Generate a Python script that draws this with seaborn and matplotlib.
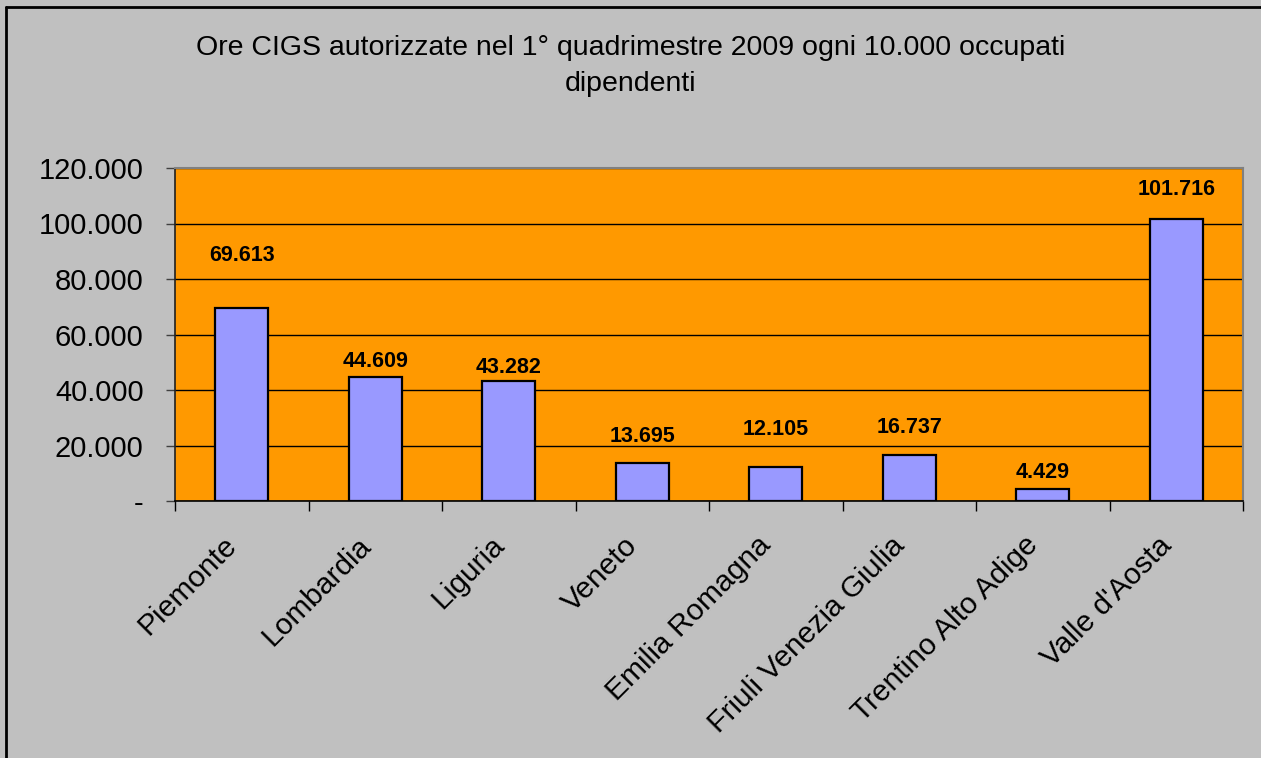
import matplotlib
matplotlib.use("Agg")
import matplotlib.pyplot as plt
import matplotlib.transforms as mtransforms
import seaborn as sns
import pandas as pd
from matplotlib.ticker import FuncFormatter, MultipleLocator, FixedLocator
from matplotlib.lines import Line2D

regions = ["Piemonte", "Lombardia", "Liguria", "Veneto", "Emilia Romagna",
           "Friuli Venezia Giulia", "Trentino Alto Adige", "Valle d'Aosta"]
values = [69613, 44609, 43282, 13695, 12105, 16737, 4429, 101716]
label_offsets = [19000, 5500, 4700, 9400, 13500, 9600, 5700, 10400]
title = "Ore CIGS autorizzate nel 1° quadrimestre 2009 ogni 10.000 occupati\ndipendenti"

sns.set_theme(style="white")
plt.rcParams['font.family'] = ['Liberation Sans', 'DejaVu Sans']

df = pd.DataFrame({"region": regions, "value": values})

fig = plt.figure(figsize=(12.61, 7.58), dpi=100, facecolor="#c0c0c0")
ax = fig.add_axes([175/1261, 1 - 501/758, (1243-175)/1261, 333/758])
ax.set_facecolor("#ff9900")

sns.barplot(data=df, x="region", y="value", color="#9999ff", width=0.4,
            edgecolor="black", linewidth=1.6, saturation=1, ax=ax, zorder=3)

ax.set_ylim(0, 120000)
ax.set_xlim(-0.5, len(regions) - 0.5)
ax.yaxis.set_major_locator(MultipleLocator(20000))
ax.yaxis.set_major_formatter(FuncFormatter(
    lambda v, p: "-" if v == 0 else f"{int(v):,}".replace(",", ".")))
ax.grid(axis="y", color="black", linewidth=1, zorder=1)
ax.set_axisbelow(True)
ax.set_xlabel("")
ax.set_ylabel("")

for s in ["top", "right"]:
    ax.spines[s].set_color("#808080")
    ax.spines[s].set_linewidth(1.5)
ax.spines["left"].set_color("#202020")
ax.spines["bottom"].set_color("black")
ax.spines["left"].set_linewidth(1.2)
ax.spines["bottom"].set_linewidth(1.2)

ax.tick_params(axis="y", which="major", left=True, length=6.5, width=1,
               color="#404040", labelsize=21, pad=16, labelcolor="black")
ax.xaxis.set_minor_locator(FixedLocator([i - 0.5 for i in range(len(regions) + 1)]))
ax.tick_params(axis="x", which="minor", bottom=True, length=7, width=1, color="black")
ax.tick_params(axis="x", which="major", bottom=False, length=0, labelbottom=False)

# category labels, rotated 45 degrees, anchored at their right end
lab_trans = ax.get_xaxis_transform() + mtransforms.ScaledTranslation(
    -9/100, -40/100, fig.dpi_scale_trans)
for i, name in enumerate(regions):
    ax.text(i, 0, name, transform=lab_trans, rotation=45, rotation_mode="anchor",
            ha="right", va="center", fontsize=21.5, color="black", clip_on=False)

for i, (v, off) in enumerate(zip(values, label_offsets)):
    ax.text(i, v + off, f"{v:,}".replace(",", "."), ha="center", va="center",
            fontsize=15.5, fontweight="bold", color="black", zorder=4)

fig.text(0.5, 1 - 66/758, title, ha="center", va="center", fontsize=20.5,
         linespacing=1.5, color="black")

fig.add_artist(Line2D([6/1261, 6/1261], [0, 1 - 7/758], color="black", lw=2,
                      transform=fig.transFigure))
fig.add_artist(Line2D([6/1261, 1], [1 - 7/758, 1 - 7/758], color="black", lw=2,
                      transform=fig.transFigure))

fig.savefig("out.png", dpi=100, facecolor=fig.get_facecolor())
